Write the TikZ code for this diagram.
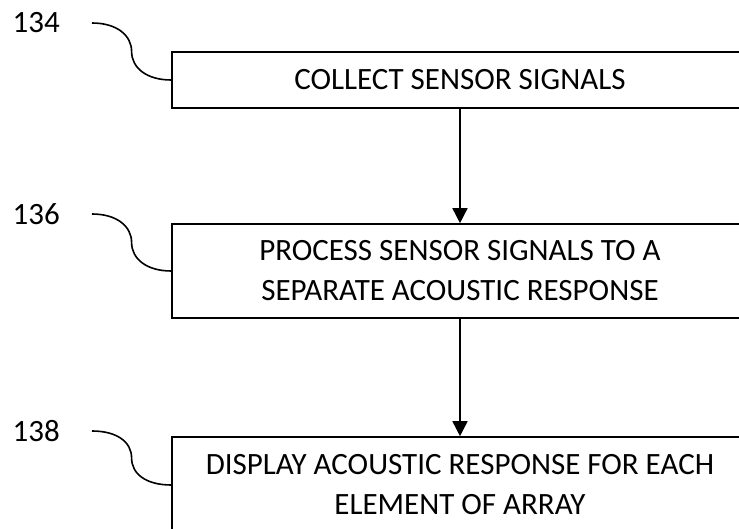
\documentclass[tikz,border=0pt]{standalone}
\usepackage{fontspec}
\setmainfont{Carlito}
\usetikzlibrary{arrows.meta,calc}

\begin{document}
\begin{tikzpicture}[x=1pt,y=-1pt,>={Triangle[width=15pt,length=15pt]},line width=1.6pt]
\useasboundingbox (0,0) rectangle (739,529);
\clip (0,0) rectangle (739,529);
\tikzset{stepbox/.style={draw,minimum width=576pt,align=center,inner sep=0pt,
  font=\fontsize{31}{40}\selectfont}}
% ---- steps ----
\node[stepbox,minimum height=56pt] (box134) at (460,80) {COLLECT SENSOR SIGNALS};
\node[stepbox,minimum height=94pt] (box136) at (460,271) {PROCESS SENSOR SIGNALS TO A\\SEPARATE ACOUSTIC RESPONSE};
\node[stepbox,minimum height=96pt] (box138) at (460,485) {DISPLAY ACOUSTIC RESPONSE FOR EACH\\ELEMENT OF ARRAY};
\draw[->] (box134) -- (box136);
\draw[->] (box136) -- (box138);
% ---- reference numerals ----
\foreach \n/\y in {134/23,136/214,138/431}{
  \node[font=\fontsize{31}{36}\selectfont,anchor=east] (lbl\n) at (64,\y) {\n};
  \coordinate (tail\n) at (92,\y);
  \draw (tail\n) .. controls +(25,0) and +(0,-16) .. ($(tail\n)!0.5!(box\n.west)$)
    .. controls +(0,16) and +(-25,0) .. (box\n.west);}
\end{tikzpicture}
\end{document}
